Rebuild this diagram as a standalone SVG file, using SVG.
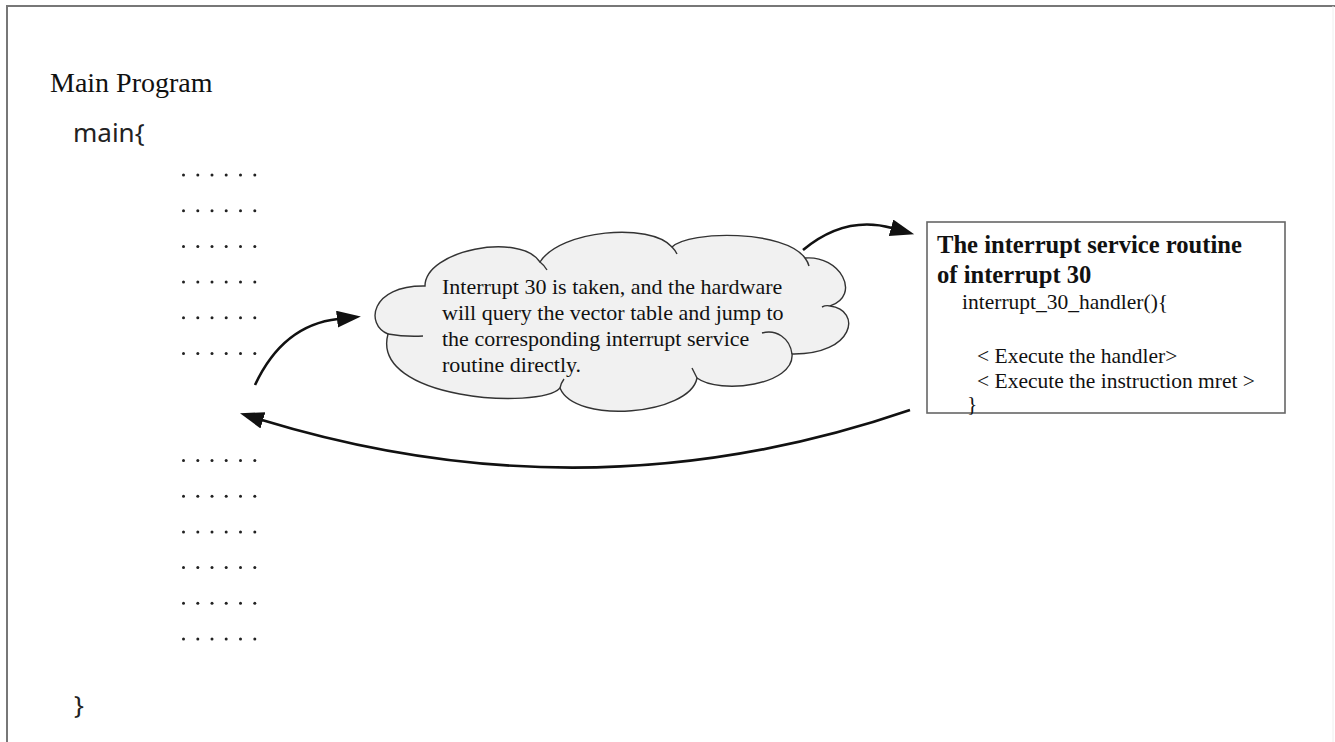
<svg xmlns="http://www.w3.org/2000/svg" width="1335" height="742" viewBox="0 0 1335 742">
<defs>
<style>
.serif{font-family:"Liberation Serif","Times New Roman",serif;fill:#111}
.sans{font-family:"Noto Sans","Open Sans",sans-serif;fill:#222}
.dot{fill:#222}
.conn{fill:none;stroke:#111;stroke-width:2.6}
.cloud{fill:#f1f1f1;stroke:#333;stroke-width:1.4}
.cusp{fill:none;stroke:#333;stroke-width:1.4}
</style>
<marker id="ah" markerUnits="userSpaceOnUse" markerWidth="26" markerHeight="20" refX="1" refY="8.5" orient="auto">
<path d="M0,0 L24,8.5 L0,17 z" fill="#111"/>
</marker>
<g id="dotrow">
<circle class="dot" cx="183.5" cy="0" r="1.5"/>
<circle class="dot" cx="197.8" cy="0" r="1.5"/>
<circle class="dot" cx="212" cy="0" r="1.5"/>
<circle class="dot" cx="226.2" cy="0" r="1.5"/>
<circle class="dot" cx="240.5" cy="0" r="1.5"/>
<circle class="dot" cx="254.8" cy="0" r="1.5"/>
</g>
</defs>
<rect x="0" y="0" width="1335" height="742" fill="#ffffff"/>
<line x1="7" y1="6" x2="1335" y2="6" stroke="#777" stroke-width="2"/>
<line x1="7" y1="5" x2="7" y2="742" stroke="#777" stroke-width="2"/>
<line x1="1333" y1="6" x2="1333" y2="742" stroke="#eee" stroke-width="1"/>

<g id="main-program">
<text class="serif" x="50" y="92" font-size="28">Main Program</text>
<text class="sans" x="73" y="142" font-size="26">main{</text>
<use href="#dotrow" y="175"/>
<use href="#dotrow" y="210.7"/>
<use href="#dotrow" y="246.4"/>
<use href="#dotrow" y="282.1"/>
<use href="#dotrow" y="317.8"/>
<use href="#dotrow" y="353.5"/>
<use href="#dotrow" y="460.5"/>
<use href="#dotrow" y="496.2"/>
<use href="#dotrow" y="531.9"/>
<use href="#dotrow" y="567.6"/>
<use href="#dotrow" y="603.3"/>
<use href="#dotrow" y="639"/>
<text class="sans" x="74" y="714" font-size="26">}</text>
</g>

<g id="cloud">
<path class="cloud" d="M425,286 C425,250 520,232 540,262 C560,230 650,222 672,247 C690,230 785,230 805,258 C840,255 862,295 830,306 C862,310 855,355 792,354 C795,385 720,395 697,378 C690,415 575,425 560,388 C540,410 370,400 388,334 C365,325 370,285 425,286 Z"/>
<path class="cusp" d="M388,334 Q405,337 423,336"/>
<path class="cusp" d="M540,262 Q544,265 547,270"/>
<path class="cusp" d="M672,247 Q675,250 677,254"/>
<path class="cusp" d="M805,258 Q808,262 809,266"/>
<path class="cusp" d="M830,306 Q826,305 822,307"/>
<path class="cusp" d="M762,333 C776,329 790,338 792,354"/>
<path class="cusp" d="M697,378 Q694,372 692,368"/>
<path class="cusp" d="M560,388 Q561,383 564,379"/>
<text class="serif" font-size="22">
<tspan x="442" y="294">Interrupt 30 is taken, and the hardware</tspan>
<tspan x="442" y="320">will query the vector table and jump to</tspan>
<tspan x="442" y="346">the corresponding interrupt service</tspan>
<tspan x="442" y="372">routine directly.</tspan>
</text>
</g>

<g id="isr-box">
<rect x="927" y="222" width="358" height="191" fill="#ffffff" stroke="#666" stroke-width="1.6"/>
<text class="serif" font-size="24.6" font-weight="bold">
<tspan x="937" y="253">The interrupt service routine</tspan>
<tspan x="937" y="283">of interrupt 30</tspan>
</text>
<text class="serif" font-size="21.5">
<tspan x="962" y="309">interrupt_30_handler(){</tspan>
<tspan x="977" y="363">&lt; Execute the handler&gt;</tspan>
<tspan x="977" y="388">&lt; Execute the instruction mret &gt;</tspan>
<tspan x="967" y="411">}</tspan>
</text>
</g>

<g id="connectors">
<path class="conn" d="M255,385 Q283,325 338,319" marker-end="url(#ah)"/>
<path class="conn" d="M803,250 Q845,215 892,228" marker-end="url(#ah)"/>
<path class="conn" d="M910,410 Q590,520 262,420" marker-end="url(#ah)"/>
</g>
</svg>
